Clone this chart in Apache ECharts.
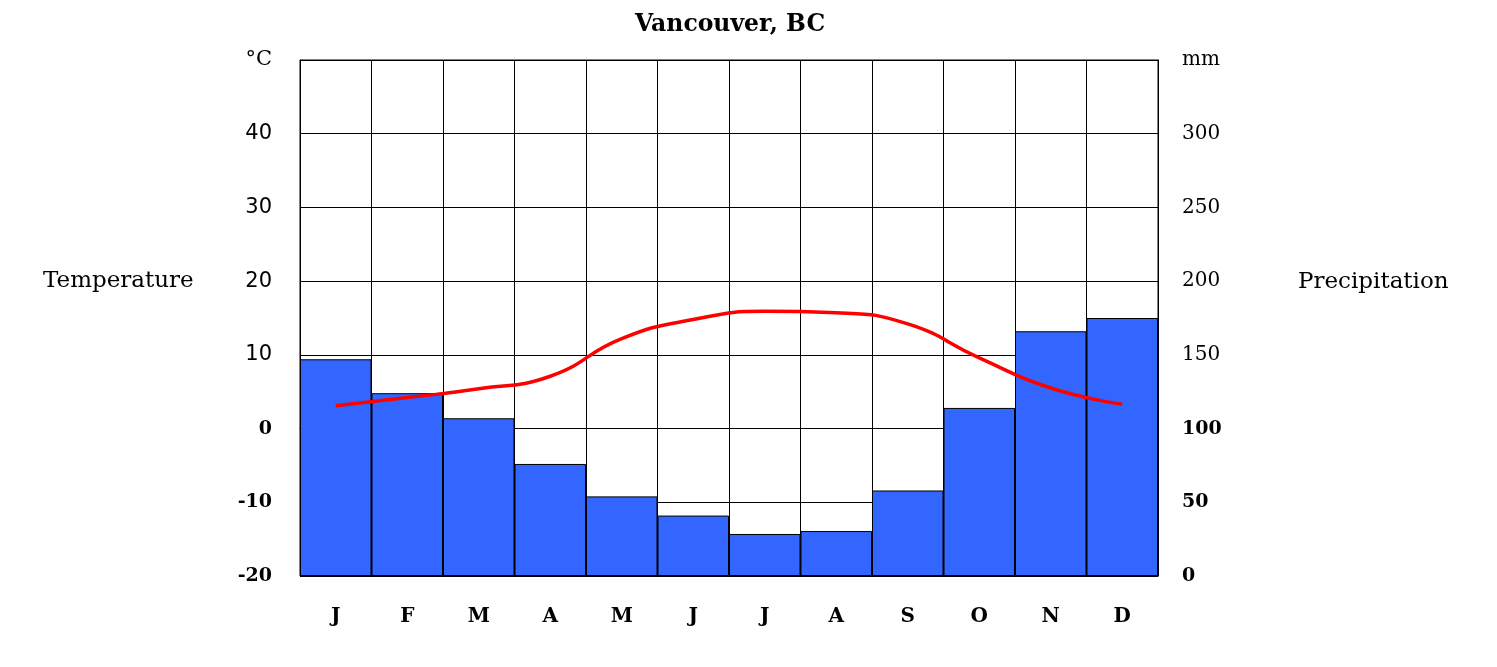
<!DOCTYPE html>
<html>
<head>
<meta charset="utf-8">
<script src="https://cdn.jsdelivr.net/npm/echarts@6/dist/echarts.min.js"></script>
<style>
html,body{margin:0;padding:0;background:#fff;}
#chart{width:1497px;height:667px;}
</style>
</head>
<body>
<div id="chart"></div>
<script>
const months = ['J','F','M','A','M','J','J','A','S','O','N','D'];
const precipitation = [147, 124, 107, 76, 54, 41, 28.5, 30.5, 58, 114, 166, 175];
const temperature = [3.1, 4.2, 5.4, 7.1, 12.2, 14.8, 15.9, 15.7, 14.2, 9.6, 5.5, 3.3];
const tempAxis = {min: -20, max: 50, interval: 10, unit: '°C'};
const precipAxis = {min: 0, max: 350, interval: 50, unit: 'mm'};

const serif = '"DejaVu Serif", "Liberation Serif", serif';
const sans = '"DejaVu Sans", Verdana, sans-serif';

const chart = echarts.init(document.getElementById('chart'), null, {renderer: 'canvas'});
chart.setOption({
  backgroundColor: '#ffffff',
  animation: false,
  title: [
    {text: 'Vancouver, BC', left: 630, top: 8,
     textStyle: {fontFamily: serif, fontWeight: 'bold', fontSize: 23.5, color: '#000'}},
    {text: 'Temperature', left: 38, top: 265,
     textStyle: {fontFamily: serif, fontWeight: 'normal', fontSize: 23, color: '#000'}},
    {text: 'Precipitation', left: 1293, top: 266,
     textStyle: {fontFamily: serif, fontWeight: 'normal', fontSize: 23, color: '#000'}}
  ],
  grid: {left: 300, right: 339, top: 60, bottom: 91, show: true, borderColor: '#000', borderWidth: 1, backgroundColor: 'transparent'},
  xAxis: {
    type: 'category',
    data: months,
    boundaryGap: true,
    axisLine: {show: true, lineStyle: {color: '#000'}},
    axisTick: {show: false},
    splitLine: {show: true, interval: 0, lineStyle: {color: '#000', width: 1}},
    axisLabel: {interval: 0, margin: 31, fontFamily: serif, fontWeight: 'bold', fontSize: 20, color: '#000'}
  },
  yAxis: [
    {
      type: 'value', min: tempAxis.min, max: tempAxis.max, interval: tempAxis.interval,
      position: 'left',
      axisLine: {show: true, lineStyle: {color: '#000'}},
      axisTick: {show: false},
      splitLine: {show: true, lineStyle: {color: '#000', width: 1}},
      axisLabel: {
        margin: 28, color: '#000',
        formatter: function (v) {
          if (v === tempAxis.max) return '{unit|' + tempAxis.unit + '}';
          if (v <= 0) return '{low|' + v + '}';
          return '{high|' + v + '}';
        },
        rich: {
          unit: {fontFamily: serif, fontSize: 21, color: '#000'},
          low: {fontFamily: serif, fontWeight: 'bold', fontSize: 19, color: '#000'},
          high: {fontFamily: sans, fontSize: 21, color: '#000'}
        }
      }
    },
    {
      type: 'value', min: precipAxis.min, max: precipAxis.max, interval: precipAxis.interval,
      position: 'right',
      axisLine: {show: true, lineStyle: {color: '#000'}},
      axisTick: {show: false},
      splitLine: {show: false},
      axisLabel: {
        margin: 24, color: '#000',
        formatter: function (v) {
          if (v === precipAxis.max) return '{unit|' + precipAxis.unit + '}';
          if (v <= 100) return '{low|' + v + '}';
          return '{high|' + v + '}';
        },
        rich: {
          unit: {fontFamily: serif, fontSize: 20, color: '#000'},
          low: {fontFamily: serif, fontWeight: 'bold', fontSize: 19, color: '#000'},
          high: {fontFamily: serif, fontSize: 20, color: '#000'}
        }
      }
    }
  ],
  series: [
    {
      name: 'Precipitation', type: 'bar', yAxisIndex: 1, data: precipitation,
      barWidth: '100%', barGap: '0%', barCategoryGap: '0%',
      itemStyle: {color: '#3366ff', borderColor: '#000', borderWidth: 1}
    },
    {
      name: 'Temperature', type: 'line', yAxisIndex: 0, data: temperature,
      smooth: 0.5, showSymbol: false, symbol: 'none',
      lineStyle: {color: '#ff0000', width: 3.5}, z: 5
    }
  ]
});
</script>
</body>
</html>
